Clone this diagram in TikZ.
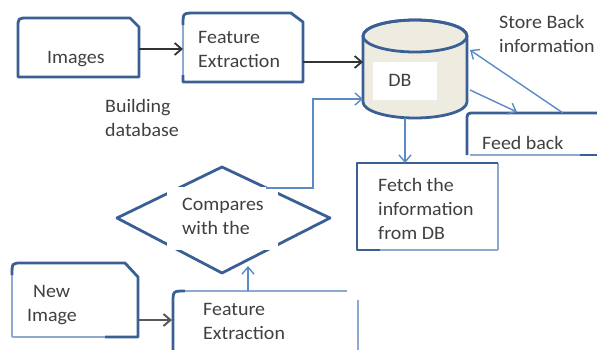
\documentclass[tikz,border=0pt]{standalone}
\usepackage{fontspec}
\setmainfont{Carlito}[FakeStretch=1.05]
\usetikzlibrary{arrows.meta}
\definecolor{boxblue}{HTML}{3A5F94}
\definecolor{lightbox}{HTML}{8EA9CF}
\definecolor{linkblue}{HTML}{5B8AC6}
\definecolor{dbfill}{HTML}{EEECE1}
\definecolor{txt}{HTML}{404040}
\tikzset{
  boxline/.style={draw=boxblue, line width=2.8pt, line join=round},
  thinbox/.style={draw=lightbox, line width=1.6pt},
  bluelink/.style={draw=linkblue, line width=1.4pt, -{Straight Barb[length=7pt,width=12pt,line width=1.4pt]}},
  blacklink/.style={draw=black!80, line width=1.8pt, -{Straight Barb[length=7pt,width=12pt,line width=1.8pt]}},
  graylink/.style={draw=black!65, line width=2.2pt, -{Straight Barb[length=7pt,width=12pt,line width=2pt]}},
  lbl/.style={text=txt, font=\fontsize{19}{24}\selectfont, inner sep=0pt, anchor=west, align=left},
}
\begin{document}
\begin{tikzpicture}[x=1pt,y=1pt]
\useasboundingbox (0,0) rectangle (597,-349);
\clip (0,0) rectangle (597,-349);

% Images box
\draw[boxline] (18,-77) -- (18,-28) .. controls (18,-18) .. (28,-18) -- (130,-18) -- (139,-27) -- (139,-77) -- cycle;
\node[lbl] (images) at (47,-59) {Images};

% Feature Extraction (top)
\draw[thinbox] (183,-75) -- (183,-25);
\draw[boxline] (183,-25) .. controls (183,-13) .. (195,-13) -- (291,-13) -- (303,-22) -- (303,-82) -- (183,-82) -- (183,-75);
\node[lbl] (fe1) at (198,-49) {Feature\\Extraction};

% Building database
\node[lbl] (build) at (105,-118) {Building\\database};

% DB cylinder
\filldraw[boxline, fill=dbfill] (363,-36) -- (363,-102) arc[start angle=180,end angle=360,x radius=52,y radius=16] -- (467,-36) arc[start angle=0,end angle=180,x radius=52,y radius=16] -- cycle;
\draw[boxline] (415,-36) ellipse[x radius=52,y radius=16];
\fill[white] (373,-62) rectangle (437,-100);
\node[lbl, anchor=center] (db) at (400,-80) {DB};

% Store back text
\node[lbl] (store) at (499,-34) {Store Back\\information};

% Feed back box
\draw[thinbox] (470,-155) -- (580,-155);
\draw[boxline] (580,-155) -- (600,-155);
\draw[boxline] (467,-155) -- (467,-121) .. controls (467,-113) .. (475,-113) -- (600,-113);
\node[lbl] (feed) at (482,-143) {Feed back};

% Fetch box
\draw[thinbox] (498,-163) -- (498,-250);
\draw[boxline] (498,-163) -- (357,-163) -- (357,-250) -- (380,-250);
\draw[thinbox] (380,-250) -- (498,-250);
\node[lbl] (fetch) at (378,-209) {Fetch the\\information\\from DB};

% Diamond
\draw[boxline] (222,-167) -- (330,-218) -- (222,-273) -- (117,-218) -- cycle;
\fill[white] (167,-187) rectangle (278,-250);
\node[lbl] (cmp) at (182,-216) {Compares\\with the};

% New Image box
\draw[thinbox] (12,-337) -- (12,-275);
\draw[boxline] (12,-275) .. controls (12,-263) .. (22,-263) -- (125,-263) -- (138,-277) -- (138,-337) -- (105,-337);
\draw[thinbox] (105,-337) -- (12,-337);
\node[lbl] (new1) at (33,-291) {New};
\node[lbl] (new2) at (27,-317) {Image};

% Feature Extraction (bottom)
\draw[boxline] (173,-352) -- (173,-303) .. controls (173,-291) .. (185,-291);
\draw[thinbox] (185,-291) -- (347,-291);
\draw[thinbox] (358,-300) -- (358,-352);
\node[lbl] (fe2) at (203,-321) {Feature\\Extraction};

% connector end points
\coordinate (img-e) at (139,-49);
\coordinate (fe1-w) at (183,-49);
\coordinate (fe1-e) at (303,-62);
\coordinate (db-w) at (363,-62);
\coordinate (cmp-ne) at (266,-188);
\coordinate (bend) at (313,-188);
\coordinate (db-sw) at (363,-99);
\coordinate (db-s) at (405,-118);
\coordinate (fetch-n) at (405,-163);
\coordinate (db-e) at (470,-90);
\coordinate (feed-n1) at (517,-112);
\coordinate (feed-n2) at (563,-113);
\coordinate (db-ne) at (470,-50);
\coordinate (new-e) at (138,-320);
\coordinate (fe2-w) at (172,-320);
\coordinate (fe2-n) at (248,-291);
\coordinate (cmp-s) at (248,-266);

% connectors
\draw[blacklink] (img-e) -- (fe1-w);
\draw[blacklink] (fe1-e) -- (db-w);
\draw[bluelink] (cmp-ne) -- (bend) |- (db-sw);
\draw[bluelink] (db-s) -- (fetch-n);
\draw[bluelink] (db-e) -- (feed-n1);
\draw[bluelink] (feed-n2) -- (db-ne);
\draw[graylink] (new-e) -- (fe2-w);
\draw[bluelink] (fe2-n) -- (cmp-s);
\end{tikzpicture}
\end{document}
